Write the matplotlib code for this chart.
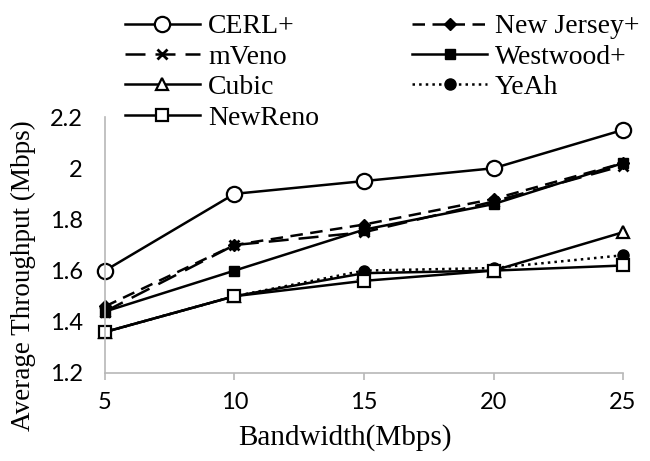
import matplotlib
matplotlib.use("Agg")
import matplotlib.pyplot as plt

bandwidth = [5, 10, 15, 20, 25]
cerl = [1.60, 1.90, 1.95, 2.00, 2.15]
new_jersey = [1.46, 1.70, 1.78, 1.88, 2.02]
mveno = [1.44, 1.70, 1.75, 1.87, 2.01]
westwood = [1.44, 1.60, 1.76, 1.86, 2.02]
cubic = [1.36, 1.50, 1.59, 1.60, 1.75]
yeah = [1.36, 1.50, 1.60, 1.61, 1.66]
newreno = [1.36, 1.50, 1.56, 1.60, 1.62]
y_ticks = [1.2, 1.4, 1.6, 1.8, 2.0, 2.2]
y_tick_labels = ["1.2", "1.4", "1.6", "1.8", "2", "2.2"]

fig = plt.figure(figsize=(6.5, 4.61), dpi=100)
ax = fig.add_axes([0.1615, 0.191, 0.797, 0.555])

lw = 1.8
h_cerl, = ax.plot(bandwidth, cerl, '-', color='black', lw=lw, marker='o', ms=11,
                  mfc='white', mec='black', mew=1.6, label='CERL+')
h_nj, = ax.plot(bandwidth, new_jersey, '--', color='black', lw=lw, marker='D', ms=6,
                mfc='black', mec='black', dashes=(5, 3), label='New Jersey+')
h_mv, = ax.plot(bandwidth, mveno, '--', color='black', lw=lw, marker='x', ms=7,
                mew=2, dashes=(8, 4), label='mVeno')
h_ww, = ax.plot(bandwidth, westwood, '-', color='black', lw=lw, marker='s', ms=7,
                mfc='black', mec='black', label='Westwood+')
h_cu, = ax.plot(bandwidth, cubic, '-', color='black', lw=lw, marker='^', ms=8,
                mfc='white', mec='black', mew=1.6, label='Cubic')
h_ye, = ax.plot(bandwidth, yeah, ':', color='black', lw=lw, marker='o', ms=8,
                mfc='black', mec='black', label='YeAh')
h_nr, = ax.plot(bandwidth, newreno, '-', color='black', lw=lw, marker='s', ms=9,
                mfc='white', mec='black', mew=1.6, label='NewReno')

ax.set_xlim(5, 25)
ax.set_ylim(1.2, 2.2)
ax.set_xticks(bandwidth)
ax.set_xticklabels([str(b) for b in bandwidth])
ax.set_yticks(y_ticks)
ax.set_yticklabels(y_tick_labels)
for lbl in ax.get_xticklabels() + ax.get_yticklabels():
    lbl.set_fontfamily('Lato')
    lbl.set_fontsize(17)
ax.tick_params(axis='y', length=0, pad=16)
ax.tick_params(axis='x', length=5, color='#b8b8b8', width=1.2, pad=9, direction='out')
for s in ['top', 'right']:
    ax.spines[s].set_visible(False)
for s in ['left', 'bottom']:
    ax.spines[s].set_color('#b8b8b8')
    ax.spines[s].set_linewidth(1.2)
for l in ax.get_lines():
    l.set_clip_on(False)

ax.set_xlabel('Bandwidth(Mbps)', family='Liberation Serif', fontsize=21)
ax.xaxis.set_label_coords(0.463, -0.2)
ax.set_ylabel('Average Throughput (Mbps)', family='Liberation Serif', fontsize=19.5)
ax.yaxis.set_label_coords(-0.133, 0.38)

handles = [h_cerl, h_mv, h_cu, h_nr, h_nj, h_ww, h_ye]
fig.legend(handles=handles, labels=[h.get_label() for h in handles], ncol=2,
           loc='upper left', bbox_to_anchor=(0.1923, 0.97), frameon=False,
           borderpad=0, borderaxespad=0,
           prop={'family': 'Liberation Serif', 'size': 20}, handlelength=2.7,
           columnspacing=3.35, labelspacing=0.18, handletextpad=0.29)

fig.savefig('out.png', dpi=100)
